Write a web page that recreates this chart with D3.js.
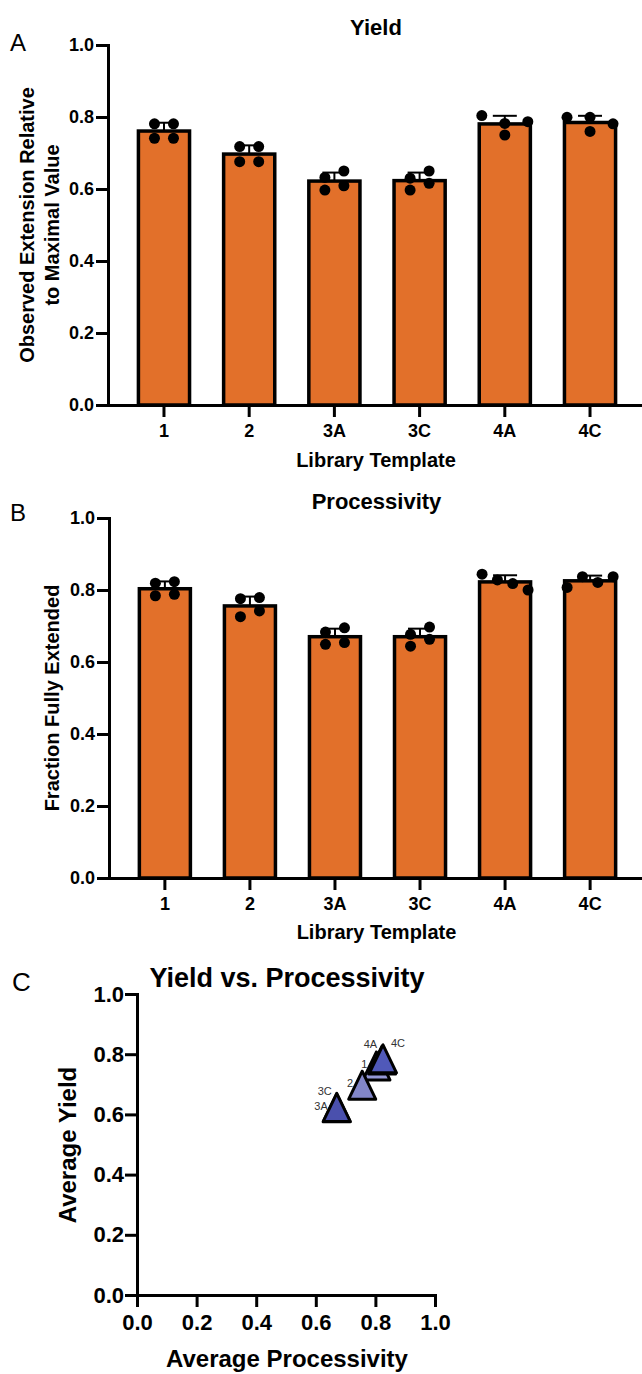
<!DOCTYPE html>
<html><head><meta charset="utf-8">
<script src="https://cdn.jsdelivr.net/npm/d3@7/dist/d3.min.js"></script>
<style>body{margin:0;background:#fff}svg{display:block;font-family:"Liberation Sans",Arial,Helvetica,sans-serif}</style>
</head><body>
<svg id="chart" width="642" height="1374"></svg>
<script>
// ---------- data ----------
const categories = ["1", "2", "3A", "3C", "4A", "4C"];
const yieldReplicates = [
  [0.781, 0.781, 0.741, 0.741],
  [0.718, 0.718, 0.676, 0.676],
  [0.632, 0.650, 0.597, 0.609],
  [0.630, 0.650, 0.597, 0.616],
  [0.804, 0.782, 0.787, 0.750],
  [0.760, 0.799, 0.799, 0.781]
];
const processivityReplicates = [
  [0.819, 0.823, 0.784, 0.788],
  [0.776, 0.779, 0.726, 0.742],
  [0.683, 0.695, 0.649, 0.654],
  [0.677, 0.697, 0.644, 0.663],
  [0.844, 0.828, 0.818, 0.800],
  [0.807, 0.837, 0.821, 0.837]
];
const barYTicks = [0, 0.2, 0.4, 0.6, 0.8, 1.0];
const scatterTicks = [0, 0.2, 0.4, 0.6, 0.8, 1.0];

// ---------- styles ----------
const barColor = "#e2702a";
const triangleColors = ["#9598d6", "#8286c8", "#4a50ad", "#4a50ad", "#343c9e", "#5059b9"];
const FONT = '"Liberation Sans",Arial,Helvetica,sans-serif';

const svg = d3.select("#chart");
const fmt = d3.format(".1f");

function styleAxis(g, fontSize) {
  g.select(".domain").attr("stroke", "#000").attr("stroke-width", 3).attr("stroke-linecap", "square");
  g.selectAll(".tick line").attr("stroke", "#000").attr("stroke-width", 3);
  g.selectAll(".tick text").attr("fill", "#000").attr("font-size", fontSize)
    .attr("font-weight", "bold").attr("font-family", FONT);
}

function swarm(vals, y, r) {
  const rows = []; let cur = null, prev = null;
  vals.forEach(v => {
    const py = y(v);
    if (cur && Math.abs(py - prev) < 2 * r + 0.5) cur.push(v);
    else { cur = [v]; rows.push(cur); }
    prev = py;
  });
  const out = [];
  rows.forEach(row => {
    const n = row.length;
    const span = n === 1 ? 0 : (n === 2 ? 19 : 46);
    row.forEach((v, i) => out.push({ v, dx: n === 1 ? 0 : -span / 2 + span * i / (n - 1) }));
  });
  return out;
}

function barPanel(opts) {
  const { reps, top, bottom, axisX, title, titleY, letter, letterY, yLabelLines, xLabelY } = opts;
  const g = svg.append("g");
  const x = d3.scaleBand().domain(categories).range([axisX, 646]).paddingInner(0.4).paddingOuter(0.357);
  const y = d3.scaleLinear().domain([0, 1]).range([bottom, top]);
  const means = reps.map(r => d3.mean(r));
  const sds = reps.map(r => d3.deviation(r));
  const r = 5.5;

  g.selectAll("rect.bar").data(categories).join("rect").attr("class", "bar")
    .attr("x", d => x(d)).attr("width", x.bandwidth())
    .attr("y", (d, i) => y(means[i])).attr("height", (d, i) => y(0) - y(means[i]))
    .attr("fill", barColor).attr("stroke", "#000").attr("stroke-width", 3.5);

  const eb = g.selectAll("g.err").data(categories).join("g").attr("class", "err");
  eb.append("line")
    .attr("x1", d => x(d) + x.bandwidth() / 2).attr("x2", d => x(d) + x.bandwidth() / 2)
    .attr("y1", (d, i) => y(means[i])).attr("y2", (d, i) => y(means[i] + sds[i]))
    .attr("stroke", "#000").attr("stroke-width", 2);
  eb.append("line")
    .attr("x1", d => x(d) + x.bandwidth() / 2 - 12).attr("x2", d => x(d) + x.bandwidth() / 2 + 12)
    .attr("y1", (d, i) => y(means[i] + sds[i])).attr("y2", (d, i) => y(means[i] + sds[i]))
    .attr("stroke", "#000").attr("stroke-width", 2);

  categories.forEach((c, i) => {
    const pts = swarm(reps[i], y, r);
    g.selectAll(null).data(pts).join("circle")
      .attr("cx", d => x(c) + x.bandwidth() / 2 + d.dx).attr("cy", d => y(d.v))
      .attr("r", r).attr("fill", "#000");
  });

  const ya = g.append("g").attr("transform", `translate(${axisX},0)`)
    .call(d3.axisLeft(y).tickValues(barYTicks).tickFormat(fmt).tickSize(12).tickSizeOuter(0).tickPadding(2));
  styleAxis(ya, 18);
  const xa = g.append("g").attr("transform", `translate(0,${bottom})`)
    .call(d3.axisBottom(x).tickSize(12).tickSizeOuter(0).tickPadding(7));
  styleAxis(xa, 18);

  const cx = (axisX + 646) / 2 - 1;
  g.append("text").attr("x", cx).attr("y", titleY).attr("text-anchor", "middle")
    .attr("font-size", 22).attr("font-weight", "bold").text(title);
  g.append("text").attr("x", cx).attr("y", xLabelY).attr("text-anchor", "middle")
    .attr("font-size", 20).attr("font-weight", "bold").text("Library Template");
  g.append("text").attr("x", 10).attr("y", letterY).attr("font-size", 24).text(letter);
  const midY = (top + bottom) / 2;
  yLabelLines.forEach((ln) => {
    g.append("text").attr("transform", `translate(${ln.x},${midY}) rotate(-90)`)
      .attr("text-anchor", "middle").attr("font-size", 20).attr("font-weight", "bold").text(ln.t);
  });
}

barPanel({
  reps: yieldReplicates, top: 45, bottom: 405, axisX: 108,
  title: "Yield", titleY: 35, letter: "A", letterY: 51, xLabelY: 467,
  yLabelLines: [{ t: "Observed Extension Relative", x: 34 }, { t: "to Maximal Value", x: 59 }]
});
barPanel({
  reps: processivityReplicates, top: 518, bottom: 878, axisX: 109,
  title: "Processivity", titleY: 509, letter: "B", letterY: 521, xLabelY: 939,
  yLabelLines: [{ t: "Fraction Fully Extended", x: 59 }]
});

// ---------- panel C ----------
(function () {
  const g = svg.append("g");
  const x = d3.scaleLinear().domain([0, 1]).range([137, 435]);
  const y = d3.scaleLinear().domain([0, 1]).range([1295, 994]);
  const yMeans = yieldReplicates.map(r => d3.mean(r));
  const pMeans = processivityReplicates.map(r => d3.mean(r));
  const pts = categories.map((c, i) => ({ c, px: x(pMeans[i]), py: y(yMeans[i]), col: triangleColors[i] }));

  const ya = g.append("g").attr("transform", "translate(137,0)")
    .call(d3.axisLeft(y).tickValues(scatterTicks).tickFormat(fmt).tickSize(12).tickSizeOuter(0).tickPadding(1));
  styleAxis(ya, 22);
  const xa = g.append("g").attr("transform", "translate(0,1295)")
    .call(d3.axisBottom(x).tickValues(scatterTicks).tickFormat(fmt).tickSize(12).tickSizeOuter(0).tickPadding(7));
  styleAxis(xa, 22);

  const w = 27, h = 28;
  g.selectAll("path.tri").data(pts).join("path").attr("class", "tri")
    .attr("d", d => `M${d.px},${d.py - h / 2}L${d.px - w / 2},${d.py + h / 2}L${d.px + w / 2},${d.py + h / 2}Z`)
    .attr("fill", d => d.col).attr("stroke", "#000").attr("stroke-width", 3).attr("stroke-linejoin", "round");

  const cands = [
    { dx: -9, dy: 2, a: "end" }, { dx: -5, dy: -12, a: "end" },
    { dx: 8, dy: -12, a: "start" }, { dx: -9, dy: 12, a: "end" }
  ];
  const boxes = [];
  pts.forEach(p => {
    const t = g.append("text").attr("font-size", 11).attr("fill", "#333").text(p.c);
    const tw = t.node().getComputedTextLength();
    let chosen = cands[0];
    for (const c of cands) {
      const bx0 = c.a === "end" ? p.px + c.dx - tw : p.px + c.dx;
      const b = { x0: bx0, x1: bx0 + tw, y0: p.py + c.dy - 8, y1: p.py + c.dy };
      const hit = boxes.some(o => b.x0 < o.x1 && b.x1 > o.x0 && b.y0 < o.y1 && b.y1 > o.y0);
      if (!hit) { chosen = c; boxes.push(b); break; }
    }
    t.attr("x", p.px + chosen.dx).attr("y", p.py + chosen.dy).attr("text-anchor", chosen.a);
  });

  g.append("text").attr("x", 287).attr("y", 987).attr("text-anchor", "middle")
    .attr("font-size", 27).attr("font-weight", "bold").text("Yield vs. Processivity");
  g.append("text").attr("x", 287).attr("y", 1367).attr("text-anchor", "middle")
    .attr("font-size", 24).attr("font-weight", "bold").text("Average Processivity");
  g.append("text").attr("transform", "translate(76,1145) rotate(-90)").attr("text-anchor", "middle")
    .attr("font-size", 24).attr("font-weight", "bold").text("Average Yield");
  g.append("text").attr("x", 12).attr("y", 991).attr("font-size", 26).text("C");
})();
</script>
</body></html>
